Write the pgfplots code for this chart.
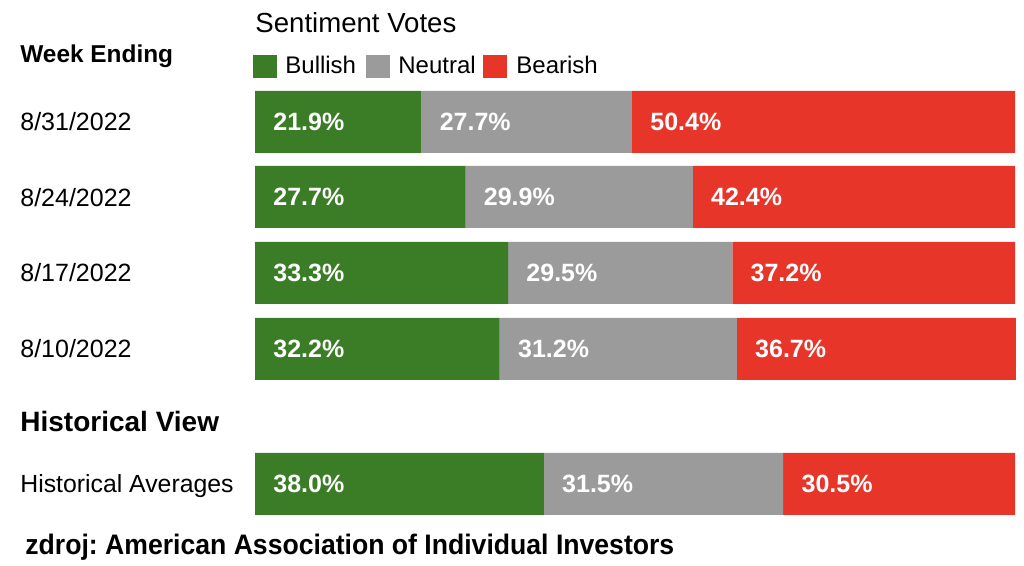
\documentclass[border=0pt]{standalone}
\usepackage{fontspec}
\setmainfont{Liberation Sans}
\usepackage{pgfplots}
\pgfplotsset{compat=1.18}
\definecolor{bull}{RGB}{58,125,38}
\definecolor{neut}{RGB}{155,155,155}
\definecolor{bear}{RGB}{232,53,42}
\newcommand{\fs}[1]{\fontsize{#1}{#1}\selectfont}
\frenchspacing
\pgfplotsset{base/.style={at={(127.5pt,0pt)}, anchor=south west, scale only axis,
  width=380pt, height=283pt, xmin=0, xmax=100, ymin=0, ymax=566,
  y dir=reverse, hide axis, clip=false}}
\begin{document}
\begin{tikzpicture}
\useasboundingbox (0,0) rectangle (512pt,283pt);
\begin{axis}[base, xbar stacked, bar width=62]
\addplot[fill=bull, draw=none] coordinates {(21.9,122) (27.7,197) (33.3,273) (32.2,349) (38.0,484)};
\addplot[fill=neut, draw=none] coordinates {(27.7,122) (29.9,197) (29.5,273) (31.2,349) (31.5,484)};
\addplot[fill=bear, draw=none] coordinates {(50.4,122) (42.4,197) (37.2,273) (36.7,349) (30.5,484)};
\end{axis}
\begin{axis}[base]
\addplot[draw=none, mark=none,
  point meta=explicit symbolic, nodes near coords,
  nodes near coords style={anchor=west, inner sep=0pt, text=white, font=\bfseries\fs{12.5}, xshift=9pt}]
  coordinates {
  (0,122)[21.9\%] (21.9,122)[27.7\%] (49.6,122)[50.4\%]
  (0,197)[27.7\%] (27.7,197)[29.9\%] (57.6,197)[42.4\%]
  (0,273)[33.3\%] (33.3,273)[29.5\%] (62.8,273)[37.2\%]
  (0,349)[32.2\%] (32.2,349)[31.2\%] (63.4,349)[36.7\%]
  (0,484)[38.0\%] (38.0,484)[31.5\%] (69.5,484)[30.5\%]
  };
\end{axis}
\begin{scope}[x=0.5pt, y=-0.5pt, yshift=283pt]
\node[anchor=base west, inner sep=0pt, font=\fs{13.8}] at (255,33) {Sentiment Votes};
\node[anchor=base west, inner sep=0pt, font=\bfseries\fs{12.2}] at (20,63) {Week Ending};
\fill[bull] (253,55) rectangle (277,78);
\node[anchor=base west, inner sep=0pt, font=\fs{12}] at (285,74) {Bullish};
\fill[neut] (366,55) rectangle (390,78);
\node[anchor=base west, inner sep=0pt, font=\fs{12}] at (398,74) {Neutral};
\fill[bear] (483,55) rectangle (507,78);
\node[anchor=base west, inner sep=0pt, font=\fs{12}] at (516,74) {Bearish};
\node[anchor=base west, inner sep=0pt, font=\fs{12.5}] at (20,131) {8/31/2022};
\node[anchor=base west, inner sep=0pt, font=\fs{12.5}] at (20,206.5) {8/24/2022};
\node[anchor=base west, inner sep=0pt, font=\fs{12.5}] at (20,282) {8/17/2022};
\node[anchor=base west, inner sep=0pt, font=\fs{12.5}] at (20,357.5) {8/10/2022};
\node[anchor=base west, inner sep=0pt, font=\bfseries\fs{14}] at (20,432) {Historical View};
\node[anchor=base west, inner sep=0pt, font=\fs{12.4}] at (20,493) {Historical Averages};
\node[anchor=base west, inner sep=0pt, font=\bfseries\fs{13.3}, yscale=1.06] at (25,555) {zdroj: American Association of Individual Investors};
\end{scope}
\end{tikzpicture}
\end{document}
